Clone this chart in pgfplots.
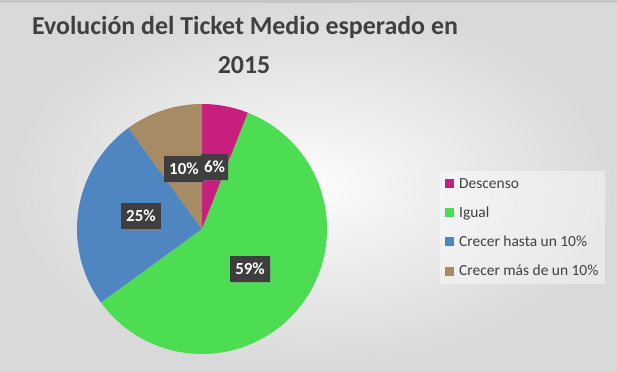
\documentclass[border=0pt]{standalone}
\usepackage{pgfplots}
\pgfplotsset{compat=1.18}
\usepackage{fontspec}
\setmainfont{Carlito}
\usetikzlibrary{shadows}
\definecolor{cDesc}{RGB}{200,30,125}
\definecolor{cIgual}{RGB}{77,221,82}
\definecolor{cHasta}{RGB}{79,133,192}
\definecolor{cMas}{RGB}{166,139,101}
\definecolor{cText}{RGB}{64,64,64}
\definecolor{cBox}{RGB}{62,62,62}
\begin{document}
\begin{tikzpicture}[x=1bp,y=1bp]
\shade[inner color=gray!2, outer color=gray!30] (0,0) rectangle (617,371);
\fill[gray!45] (0,368) rectangle (617,371);
\begin{axis}[at={(0,0)}, anchor=south west, width=617bp, height=371bp, scale only axis,
  xmin=0, xmax=617, ymin=0, ymax=371, hide axis, clip=false,
  legend style={at={(440/617,200/371)}, anchor=north west, draw=none,
    fill=white, fill opacity=0.4, text opacity=1,
    font=\fontsize{15.5}{17}\selectfont, text=cText,
    inner xsep=5bp, inner ysep=5bp, row sep=13bp,
    legend cell align=left},
  legend image code/.code={\fill[#1, fill opacity=1] (0bp,-4.5bp) rectangle (9bp,4.5bp); \path (12bp,0bp);}]
% values (percent): Descenso 6, Igual 59, Crecer hasta un 10% 25, Crecer mas de un 10% 10
\addplot[fill=cDesc, draw=none, domain=68.4:90, samples=30, variable=\t]
  ({202+125*cos(\t)}, {142+125*sin(\t)}) -- (axis cs:202,142) -- cycle;
\addlegendentry{Descenso}
\addplot[fill=cIgual, draw=none, domain=-144:68.4, samples=150, variable=\t]
  ({202+125*cos(\t)}, {142+125*sin(\t)}) -- (axis cs:202,142) -- cycle;
\addlegendentry{Igual}
\addplot[fill=cHasta, draw=none, domain=-234:-144, samples=70, variable=\t]
  ({202+125*cos(\t)}, {142+125*sin(\t)}) -- (axis cs:202,142) -- cycle;
\addlegendentry{Crecer hasta un 10\%}
\addplot[fill=cMas, draw=none, domain=-270:-234, samples=30, variable=\t]
  ({202+125*cos(\t)}, {142+125*sin(\t)}) -- (axis cs:202,142) -- cycle;
\addlegendentry{Crecer más de un 10\%}
\tikzset{lab/.style={fill=cBox, text=white, font=\fontsize{17}{17}\selectfont\bfseries,
  inner xsep=5bp, minimum height=26bp, drop shadow={opacity=0.35, shadow xshift=1.5bp, shadow yshift=-1.5bp}}}
\node[lab] at (axis cs:184,202) {10\%};
\node[lab, inner xsep=3bp] at (axis cs:214.5,204) {6\%};
\node[lab] at (axis cs:141,155) {25\%};
\node[lab] at (axis cs:250,102.5) {59\%};
\node[anchor=base, text=cText, font=\fontsize{26}{30}\selectfont\bfseries] at (axis cs:245,336) {Evolución del Ticket Medio esperado en};
\node[anchor=base, text=cText, font=\fontsize{26}{30}\selectfont\bfseries] at (axis cs:244,297) {2015};
\end{axis}
\end{tikzpicture}
\end{document}
